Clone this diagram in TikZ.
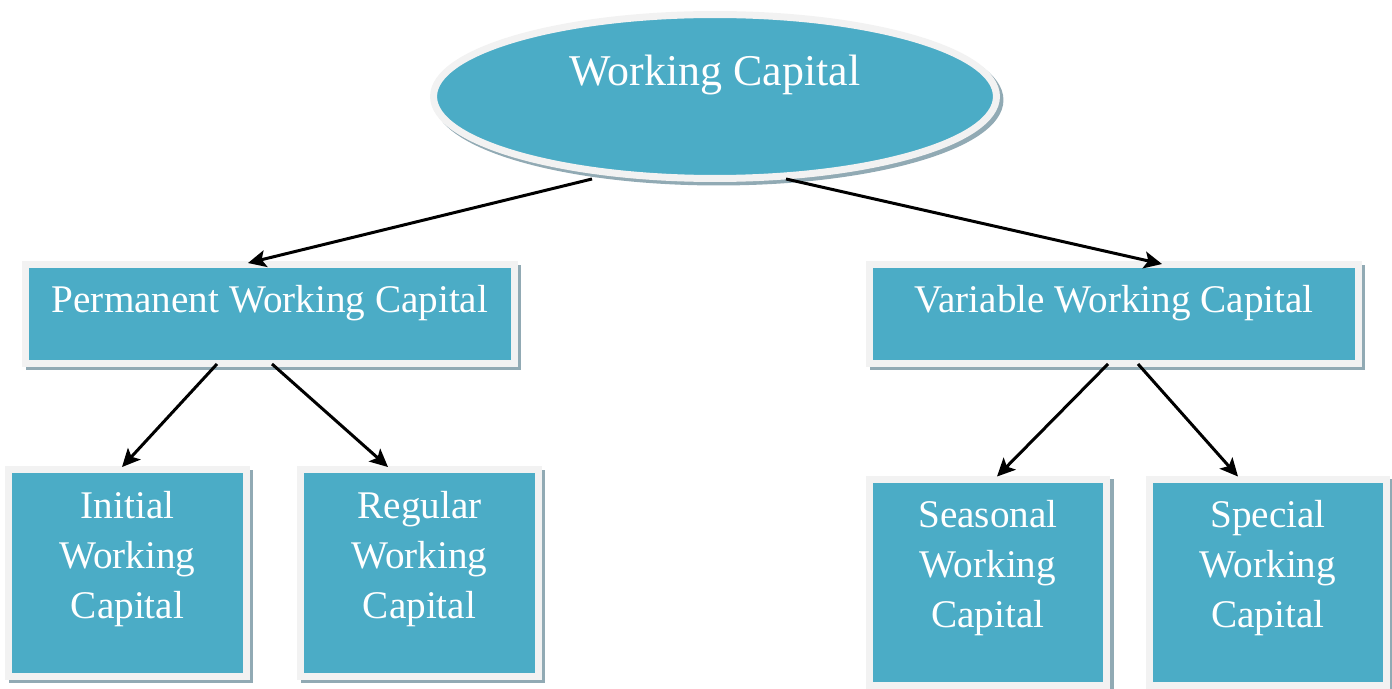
\documentclass[tikz,border=0pt]{standalone}
\usepackage{fontspec}
\setmainfont{Liberation Serif}
\usetikzlibrary{shapes.geometric}
\usetikzlibrary{shadows}
\usetikzlibrary{arrows.meta, calc}
\usetikzlibrary{positioning}

\definecolor{wcteal}{RGB}{75,172,198}
\definecolor{wcrim}{RGB}{242,242,242}
\definecolor{wcshade}{RGB}{145,170,180}

\begin{document}
\begin{tikzpicture}
  [
    x=0.02cm, y=-0.02cm,
    >={Stealth[length=0.36cm, width=0.34cm, inset=0.08cm]},
    every node/.style={text=white, font=\fontsize{22.3}{28.45}\selectfont},
    drop/.style    = {general shadow={fill=wcshade, draw=wcshade, line width=0.14cm, shadow xshift=0.07cm, shadow yshift=-0.07cm}},
    widebox/.style = {rectangle, draw=wcrim, fill=wcteal, line width=0.14cm, drop, inner sep=0pt,
                      minimum width=9.78cm, minimum height=1.98cm, text height=0.54cm, text depth=0.62cm},
    tallbox/.style = {rectangle, draw=wcrim, fill=wcteal, line width=0.14cm, drop, inner sep=0pt,
                      minimum width=4.76cm, minimum height=4.14cm, align=center, text depth=0.74cm},
    oval/.style    = {ellipse, draw=wcrim, fill=wcteal, line width=0.14cm, drop, inner sep=0pt,
                      minimum width=11.26cm, minimum height=3.28cm, font=\fontsize{25}{30}\selectfont,
                      text height=0.6cm, text depth=1.06cm},
    link/.style    = {->, black, line width=0.06cm},
  ]

  \useasboundingbox (0,0) rectangle (1392,689);

  % the root
  \node (wc) at (715,96.5) [oval] {Working Capital};

  % the two kinds
  \node (pwc) at (270,314) [widebox] {Permanent Working Capital};
  \node (vwc) at (1114,314) [widebox] {Variable Working Capital};

  % the leaves
  \node (iwc) at (127.5,573) [tallbox] {Initial\\Working\\Capital};
  \node (rwc) at (419.5,573) [tallbox] {Regular\\Working\\Capital};
  \node (swc) at (988,582.5) [tallbox] {Seasonal\\Working\\Capital};
  \node (spwc) at (1268,582.5) [tallbox] {Special\\Working\\Capital};

  % arrows
  \draw[link] ($(wc.south)+(-123,-3)$) -- ($(pwc.north)+(-22,2)$);
  \draw[link] ($(wc.south)+(71,-3)$) -- ($(vwc.north)+(48,3)$);

  \draw[link] ($(pwc.south)+(-53,-3)$) -- ($(iwc.north)+(-5.5,1)$);
  \draw[link] ($(pwc.south)+(2,-3)$) -- ($(rwc.north)+(-31.5,1)$);

  \draw[link] ($(vwc.south)+(-6,-3)$) -- ($(swc.north)+(9,1)$);
  \draw[link] ($(vwc.south)+(24,-3)$) -- ($(spwc.north)+(-30,1)$);

\end{tikzpicture}
\end{document}
